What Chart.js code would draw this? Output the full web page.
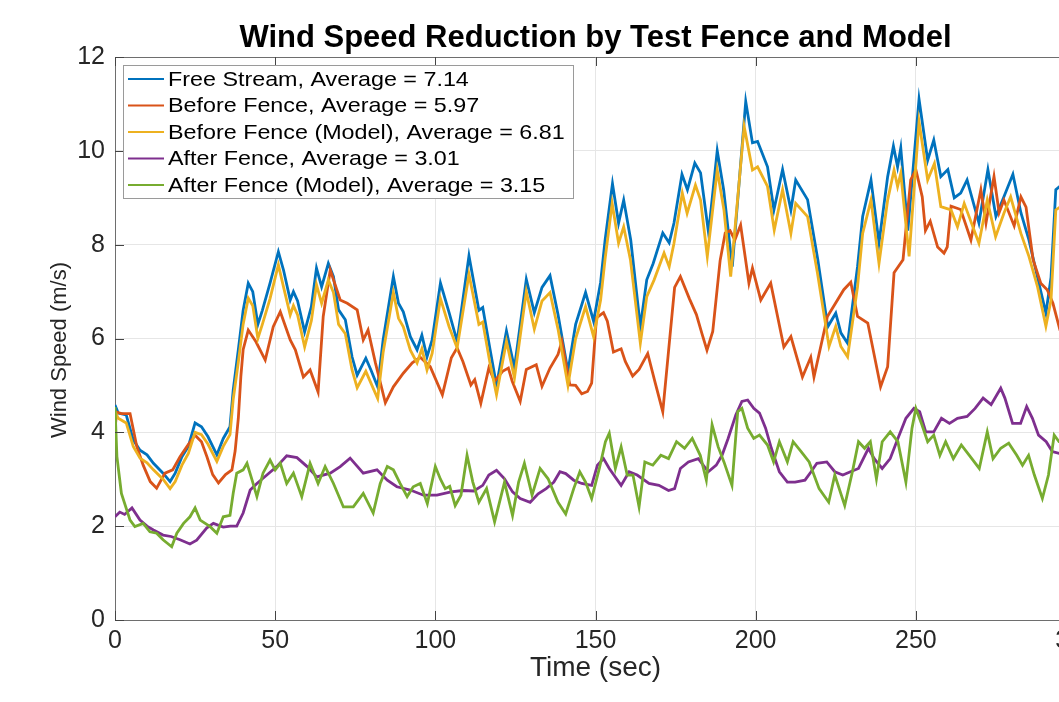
<!DOCTYPE html>
<html>
<head>
<meta charset="utf-8">
<title>Wind Speed Reduction</title>
<script src="https://cdn.jsdelivr.net/npm/chart.js@4.4.0/dist/chart.umd.min.js"></script>
<style>
  html, body { margin: 0; padding: 0; background: #fff; overflow: hidden; }
  #wrap { position: absolute; left: 0; top: 0; width: 1059px; height: 702px; overflow: hidden; }
</style>
</head>
<body>
<div id="wrap"><canvas id="windChart" width="1190" height="702"></canvas></div>
<script>
// datos: [tiempo (s), velocidad (m/s)]
var seriesLabels = [
    'Free Stream, Average = 7.14',
    'Before Fence, Average = 5.97',
    'Before Fence (Model), Average = 6.81',
    'After Fence, Average = 3.01',
    'After Fence (Model), Average = 3.15'
];
var xTicks = [0, 50, 100, 150, 200, 250, 300];
var yTicks = [0, 2, 4, 6, 8, 10, 12];

var freeStream = [[0,4.58],[1,4.41],[3.5,4.37],[5.7,3.84],[7.8,3.62],[10,3.52],[12,3.34],[15,3.13],[17.2,2.95],[18.8,3.13],[20.9,3.48],[22.9,3.7],[25,4.2],[27,4.12],[29,3.91],[31.8,3.52],[33.8,3.87],[35.9,4.12],[36.9,4.9],[38.5,5.76],[40,6.6],[41.6,7.18],[43,7.0],[44.6,6.3],[46,6.6],[48.4,7.18],[51,7.85],[52.6,7.46],[54.7,6.82],[55.7,7.0],[57,6.8],[59.2,6.14],[61.3,6.68],[62.9,7.5],[64.5,7.1],[66.6,7.6],[68.2,7.32],[69.8,6.61],[71.9,6.4],[74,5.61],[75.6,5.22],[78.3,5.58],[79.9,5.33],[82,4.97],[83.7,5.97],[86.9,7.32],[88.5,6.75],[90,6.57],[92.2,6.04],[94.3,5.76],[95.8,6.07],[97.4,5.61],[99,5.97],[101.6,7.18],[104.3,6.55],[106.8,5.94],[110.5,7.76],[113.6,6.6],[114.8,6.66],[117,5.8],[119.1,5.0],[122.2,6.16],[124.7,5.37],[128.4,7.26],[130.9,6.55],[133.3,7.09],[135.8,7.34],[138.3,6.51],[141.4,5.3],[143.8,6.3],[146.9,6.98],[149.4,6.37],[151.6,7.2],[153,8.1],[155.3,9.3],[157.2,8.46],[158.8,8.95],[161,8.1],[164,6.25],[166,7.25],[168,7.6],[171,8.25],[173,8.04],[174.5,8.46],[177,9.5],[178.7,9.17],[181,9.74],[182.8,9.53],[185.3,8.25],[188,10.0],[190,9.17],[192.7,7.53],[196.9,11.05],[199,10.17],[200.6,10.2],[203.7,9.66],[205.7,8.74],[208.4,9.6],[211,8.74],[212.5,9.38],[216.2,8.96],[219.4,7.68],[222.5,6.25],[225,6.54],[226.6,6.12],[228.7,5.9],[231.8,7.53],[233.4,8.6],[236,9.38],[238.5,8.04],[241.2,9.45],[243,10.1],[244.3,9.66],[245.3,10.06],[247.5,8.3],[251,11.1],[253.7,9.8],[255.6,10.23],[257.8,9.45],[260,9.6],[262,9.0],[264,9.1],[266,9.38],[269.7,8.46],[272.5,9.6],[275,8.6],[277.5,9.02],[280.3,9.5],[282.8,8.68],[285.3,8.1],[288,7.3],[290.6,6.54],[292.2,7.3],[293.7,9.17],[296,9.3],[300,8.9]];

var beforeFence = [[0,4.05],[0.5,4.43],[2,4.4],[4.7,4.4],[6.8,3.7],[8.8,3.3],[11,2.95],[13,2.81],[15.6,3.13],[18,3.2],[20.3,3.48],[22.5,3.7],[25,3.94],[27,3.8],[28.7,3.48],[30.5,3.1],[32.3,2.92],[34.5,3.1],[36.5,3.2],[37.5,3.6],[38.5,4.3],[39.3,5.2],[40,5.76],[41.6,6.18],[44,5.93],[46.9,5.54],[49.4,6.25],[51.6,6.57],[54.7,5.97],[56.3,5.76],[58.8,5.18],[60.9,5.33],[63.4,4.86],[65,6.47],[67.2,7.46],[70.3,6.82],[72.5,6.75],[75.6,6.61],[77.5,5.97],[79,6.18],[81.3,5.48],[84.4,4.63],[86.9,4.97],[90,5.26],[92.8,5.48],[95.3,5.6],[98.4,5.4],[102.2,4.8],[105,5.59],[106.8,5.8],[108.6,5.51],[111.1,5.01],[112.3,5.12],[114.2,4.62],[116.7,5.37],[118.5,5.09],[121,5.3],[122.8,5.37],[124,5.09],[126.5,4.66],[128.4,5.34],[131.5,5.44],[133.3,4.98],[135.8,5.37],[138.3,5.66],[139.5,5.94],[142,5.01],[143.8,5.0],[145.7,4.82],[147.5,4.87],[148.8,5.05],[150.3,6.44],[152.5,6.55],[153.7,6.37],[155.6,5.71],[158,5.78],[159.3,5.51],[161.6,5.2],[163.6,5.34],[166.3,5.68],[168.5,5.09],[171,4.44],[172.8,5.73],[174.7,7.09],[176.5,7.32],[179.3,6.85],[181.5,6.51],[183.3,6.09],[184.8,5.75],[186.6,6.15],[188.9,7.66],[190.5,8.25],[192,8.3],[193.5,8.1],[195.3,8.42],[197.9,7.18],[199,7.5],[201.6,6.82],[204.7,7.18],[208.8,5.82],[211,6.04],[214.6,5.18],[217.2,5.6],[218.2,5.18],[222.4,6.47],[227.5,7.04],[229.7,7.2],[231.8,6.47],[235,6.33],[239,4.97],[241.2,5.4],[243.2,7.4],[246,7.68],[248.4,9.38],[250,9.6],[252,9.02],[253,8.3],[254.5,8.5],[256.8,7.95],[258.8,7.82],[259.8,7.95],[261,8.82],[264,8.75],[267.2,8.1],[270.3,9.17],[271.9,8.46],[274.4,9.45],[276,8.68],[277.5,8.95],[280.7,8.4],[282.8,9.02],[284.4,8.8],[286.6,7.68],[289,7.18],[291,7.04],[292.8,6.75],[295,6.18],[300,5.8]];

var beforeModel = [[0,4.45],[1,4.3],[3.5,4.2],[5.7,3.7],[7.8,3.45],[10,3.35],[12,3.2],[15,3.0],[17.2,2.8],[18.8,2.95],[20.9,3.3],[22.9,3.55],[25,4.0],[27,3.95],[29,3.75],[31.8,3.38],[33.8,3.7],[35.9,3.95],[36.9,4.7],[38.5,5.5],[40,6.3],[41.6,6.86],[43,6.7],[44.6,6.0],[46,6.3],[48.4,6.85],[51,7.57],[52.6,7.1],[54.7,6.5],[55.7,6.7],[57,6.5],[59.2,5.82],[61.3,6.38],[62.9,7.15],[64.5,6.75],[66.6,7.25],[68.2,6.98],[69.8,6.3],[71.9,6.1],[74,5.33],[75.6,4.95],[78.3,5.3],[79.9,5.05],[82,4.72],[83.7,5.7],[86.9,6.98],[88.5,6.43],[90,6.25],[92.2,5.75],[94.3,5.48],[95.8,5.78],[97.4,5.33],[99,5.68],[101.6,6.85],[104.3,6.25],[106.8,5.8],[110.5,7.37],[113.6,6.3],[114.8,6.35],[117,5.5],[119.1,4.8],[122.2,5.94],[124.7,5.16],[128.4,7.0],[130.9,6.2],[133.3,6.8],[135.8,6.98],[138.3,6.2],[141.4,5.0],[143.8,6.0],[146.9,6.68],[149.4,6.04],[151.6,6.82],[153,7.7],[155.2,8.88],[157.2,8.03],[158.8,8.38],[160.9,7.68],[164,5.9],[166,6.89],[168.3,7.25],[171.4,7.82],[173,7.53],[174.5,8.03],[177.1,9.1],[178.6,8.67],[181.2,9.27],[182.8,8.95],[184.9,7.75],[188,9.59],[190.1,8.74],[192.2,7.32],[196.4,10.52],[199,9.59],[200.6,9.66],[203.7,9.24],[205.8,8.31],[208.4,9.17],[211,8.24],[212.5,8.88],[216.2,8.6],[219.3,7.39],[222.9,5.83],[225,6.26],[226.6,5.83],[228.7,5.61],[231.8,7.1],[233.4,8.24],[236,8.95],[238.5,7.6],[241.2,8.95],[243.2,9.59],[244.3,9.24],[245.3,9.52],[247.9,7.75],[251,10.62],[253.7,9.38],[255.8,9.73],[257.8,8.81],[261,8.74],[263,8.38],[265.1,8.88],[269.7,8.03],[272.3,8.95],[274.9,8.17],[277.5,8.67],[279.6,9.02],[282.8,8.24],[285.3,7.75],[288,7.1],[290.6,6.26],[292.2,6.82],[293.7,8.74],[296,8.85],[300,8.5]];

var afterFence = [[0,2.2],[1.5,2.3],[3,2.25],[5.3,2.39],[7.8,2.13],[10,2.0],[12,1.92],[15,1.81],[17.5,1.78],[20.3,1.71],[23.4,1.62],[25.5,1.7],[28.6,1.96],[30.7,2.06],[33.8,1.98],[36,2.0],[38,2.0],[40,2.28],[42.2,2.77],[44.3,2.91],[47.4,3.09],[50.5,3.27],[53.6,3.5],[56.8,3.46],[60,3.27],[63,3.05],[67.2,3.13],[70.3,3.27],[73.4,3.45],[77.5,3.13],[81.8,3.2],[85,2.98],[88,2.84],[92.2,2.77],[96.3,2.66],[100.5,2.66],[104.9,2.73],[108.6,2.76],[112,2.75],[114.8,2.87],[116.7,3.09],[119.1,3.19],[121.6,3.01],[124.1,2.73],[126.5,2.59],[129.6,2.51],[132.1,2.69],[134.6,2.8],[137,2.94],[138.9,3.16],[140.7,3.12],[143.2,2.98],[145.7,2.91],[148.8,2.87],[150.6,3.3],[152.5,3.44],[154.3,3.23],[158,2.87],[160.5,3.16],[163,3.09],[166.7,2.91],[169.8,2.87],[172.8,2.76],[174.7,2.8],[176.5,3.23],[179,3.37],[182.1,3.44],[185.2,3.16],[187.7,3.3],[189.5,3.51],[191.4,3.87],[193.8,4.37],[195.7,4.66],[197.5,4.69],[199.4,4.51],[201.2,4.41],[203.1,4.09],[204.9,3.66],[207.4,3.16],[209.9,2.94],[212.3,2.94],[215.4,2.98],[217.3,3.16],[219.1,3.34],[222.2,3.37],[224.7,3.16],[227.2,3.09],[229.6,3.16],[232.1,3.23],[235.2,3.66],[237,3.44],[239.5,3.23],[242,3.44],[244.4,3.87],[246.9,4.3],[249.4,4.51],[251.2,4.44],[253.1,4.01],[255.6,4.01],[258,4.3],[260.5,4.19],[263,4.3],[266,4.34],[268.5,4.51],[271,4.73],[273.5,4.59],[276.5,4.94],[277.8,4.73],[280.2,4.19],[282.7,4.19],[284.6,4.55],[286.4,4.3],[288.3,3.94],[290.7,3.8],[292.6,3.59],[294.7,3.55],[300,3.6]];

var afterModel = [[0,4.54],[0.6,3.48],[2,2.7],[4.7,2.13],[6.2,1.99],[8.8,2.06],[10.9,1.88],[13,1.85],[15,1.71],[17.7,1.56],[19.3,1.85],[21.4,2.06],[23.4,2.2],[25,2.39],[26.6,2.13],[29.7,1.99],[31.8,1.85],[33.8,2.2],[35.9,2.23],[36.9,2.7],[38,3.13],[40,3.2],[41.2,3.34],[42.8,2.98],[44.3,2.63],[46.2,3.13],[48.4,3.41],[50,3.2],[51.6,3.34],[53.6,2.91],[55.7,3.13],[58.3,2.63],[60.9,3.34],[63.4,2.91],[65.6,3.27],[68.2,2.91],[71.3,2.41],[74.4,2.41],[77.5,2.7],[80.6,2.28],[82.8,2.91],[85,3.27],[86.9,3.2],[89,2.91],[91.2,2.63],[93.1,2.84],[95.3,2.91],[97.5,2.48],[100,3.27],[101.6,3.0],[103.1,2.8],[104.5,2.85],[106.2,2.44],[108,2.66],[109.9,3.51],[111.7,2.94],[113.6,2.51],[116,2.8],[118.5,2.09],[121.6,2.94],[124.1,2.23],[126,2.94],[127.8,3.34],[130.2,2.66],[132.7,3.23],[135.2,3.01],[138.3,2.51],[140.7,2.26],[143.2,2.8],[145.1,3.16],[146.9,2.94],[148.8,2.59],[151.2,3.23],[153.1,3.8],[154.3,3.98],[156.2,3.23],[158,3.69],[159.9,3.09],[161.7,3.09],[163.6,2.41],[165.4,3.37],[167.9,3.3],[170.4,3.51],[172.8,3.44],[175.3,3.8],[177.8,3.66],[180.2,3.87],[182.7,3.51],[184.6,2.98],[186.4,4.16],[188.3,3.69],[190.1,3.37],[192.6,2.87],[194.4,4.44],[195.7,4.51],[197.5,4.09],[199.4,3.87],[201.2,3.94],[203.7,3.73],[205.6,3.37],[207.4,3.8],[209.9,3.37],[211.7,3.8],[214.2,3.59],[216.7,3.37],[219.8,2.8],[222.8,2.51],[224.7,3.09],[227.8,2.44],[230.2,3.16],[232.1,3.8],[234,3.66],[235.8,3.8],[237.7,3.01],[239.5,3.8],[242,4.01],[244.4,3.8],[246.9,2.94],[248.8,4.09],[250,4.51],[251.9,4.16],[253.7,3.8],[255.6,3.94],[257.5,3.51],[259.3,3.8],[261.7,3.44],[264.2,3.73],[266.7,3.51],[269.8,3.23],[272.3,4.01],[274.1,3.44],[276.5,3.66],[279,3.77],[281.5,3.51],[283.3,3.3],[285.2,3.51],[287,3.09],[289.5,2.59],[291.4,3.09],[293.2,3.94],[294.7,3.8],[300,3.8]];

// colores por defecto de MATLAB
var colores = ['#0072BD', '#D95319', '#EDB120', '#7E2F8E', '#77AC30'];
var fuente = '"Liberation Sans", Arial, Helvetica, sans-serif';

function toXY(serie) {
    return serie.map(function(p) { return { x: p[0], y: p[1] }; });
}

var todas = [freeStream, beforeFence, beforeModel, afterFence, afterModel];
var datasets = todas.map(function(serie, i) {
    return {
        label: seriesLabels[i],
        data: toXY(serie),
        borderColor: colores[i],
        backgroundColor: colores[i],
        borderWidth: 2.8,
        pointRadius: 0,
        tension: 0,
        fill: false,
        order: 5 - i // la ultima serie queda arriba, como en MATLAB
    };
});

// marco, ticks hacia dentro, titulos y leyenda
var matlabLook = {
    id: 'matlabLook',
    afterDraw: function(chart) {
        var ctx = chart.ctx;
        var a = chart.chartArea;
        var sx = chart.scales.x, sy = chart.scales.y;
        ctx.save();

        // caja
        ctx.strokeStyle = '#6e6e6e';
        ctx.lineWidth = 1;
        ctx.beginPath();
        ctx.moveTo(a.left, a.top + 0.5);
        ctx.lineTo(a.right, a.top + 0.5);
        ctx.moveTo(a.right - 0.5, a.top);
        ctx.lineTo(a.right - 0.5, a.bottom);
        ctx.stroke();

        // ticks
        ctx.strokeStyle = '#444';
        ctx.beginPath();
        xTicks.forEach(function(v) {
            var px = Math.round(sx.getPixelForValue(v)) + 0.5;
            ctx.moveTo(px, a.bottom); ctx.lineTo(px, a.bottom - 9);
            ctx.moveTo(px, a.top); ctx.lineTo(px, a.top + 9);
        });
        yTicks.forEach(function(v) {
            var py = Math.round(sy.getPixelForValue(v)) + 0.5;
            ctx.moveTo(a.left, py); ctx.lineTo(a.left + 9, py);
        });
        ctx.stroke();

        // titulo
        ctx.fillStyle = '#000';
        ctx.textAlign = 'center';
        ctx.textBaseline = 'middle';
        ctx.font = 'bold 31px ' + fuente;
        ctx.fillText('Wind Speed Reduction by Test Fence and Model', (a.left + a.right) / 2, 38);

        // titulos de ejes
        ctx.fillStyle = '#262626';
        ctx.font = '28px ' + fuente;
        ctx.fillText('Time (sec)', (a.left + a.right) / 2, 668);
        ctx.save();
        ctx.translate(60, 350);
        ctx.rotate(-Math.PI / 2);
        ctx.font = '22px ' + fuente;
        ctx.fillText('Wind Speed (m/s)', 0, 0);
        ctx.restore();

        // leyenda (texto algo ensanchado, como en la figura original)
        var bx = 123.5, by = 65.5, bw = 450, bh = 133;
        ctx.fillStyle = '#fff';
        ctx.fillRect(bx, by, bw, bh);
        ctx.strokeStyle = '#9a9a9a';
        ctx.strokeRect(bx, by, bw, bh);
        ctx.font = '21px ' + fuente;
        ctx.textAlign = 'left';
        chart.data.datasets.forEach(function(ds, i) {
            var yy = 79 + i * 26.5;
            ctx.strokeStyle = ds.borderColor;
            ctx.lineWidth = 2;
            ctx.beginPath();
            ctx.moveTo(128, yy); ctx.lineTo(164, yy);
            ctx.stroke();
            ctx.save();
            ctx.translate(168, yy + 1);
            ctx.scale(1.11, 1);
            ctx.fillStyle = '#000';
            ctx.fillText(ds.label, 0, 0);
            ctx.restore();
        });
        ctx.restore();
    }
};

var ctx = document.getElementById('windChart').getContext('2d');
var myChart = new Chart(ctx, {
    type: 'line',
    data: { datasets: datasets },
    options: {
        responsive: false,
        animation: false,
        devicePixelRatio: 1,
        layout: { padding: { left: 0, right: 114, top: 57, bottom: 0 } },
        plugins: {
            legend: { display: false },
            title: { display: false },
            tooltip: { enabled: false }
        },
        scales: {
            x: {
                type: 'linear',
                min: 0,
                max: 300,
                afterFit: function(scale) { scale.height = 82; },
                afterBuildTicks: function(scale) { scale.ticks = xTicks.map(function(v) { return { value: v }; }); },
                ticks: { color: '#262626', padding: 6, maxRotation: 0, font: { family: fuente, size: 25 } },
                grid: { color: '#e6e6e6', drawTicks: false },
                border: { color: '#6e6e6e' }
            },
            y: {
                min: 0,
                max: 12,
                afterFit: function(scale) { scale.width = 115; },
                afterBuildTicks: function(scale) { scale.ticks = yTicks.map(function(v) { return { value: v }; }); },
                ticks: { color: '#262626', padding: 10, font: { family: fuente, size: 25 } },
                grid: { color: '#e6e6e6', drawTicks: false },
                border: { color: '#6e6e6e' }
            }
        }
    },
    plugins: [matlabLook]
});
</script>
</body>
</html>
